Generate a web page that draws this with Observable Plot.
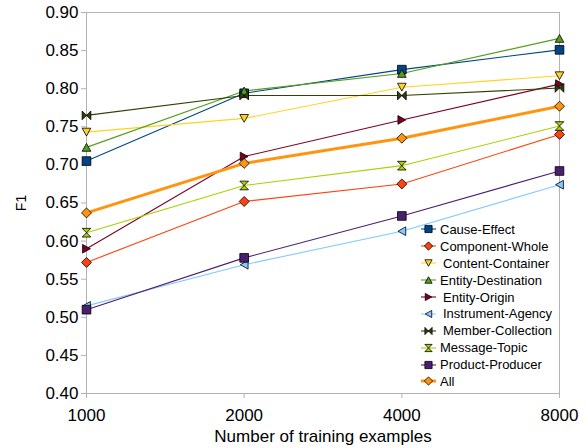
<!DOCTYPE html>
<html><head><meta charset="utf-8">
<script src="https://cdn.jsdelivr.net/npm/d3@7"></script>
<script src="https://cdn.jsdelivr.net/npm/@observablehq/plot@0.6"></script>
<style>
body{margin:0;background:#fff;font-family:"Liberation Sans",Arial,sans-serif;}
#chart{position:relative;width:586px;height:448px;}
#legend{position:absolute;left:420px;top:221px;font-size:13px;color:#000;}
.row{display:flex;align-items:center;height:16.9px;white-space:nowrap;}
.row svg{flex:none;margin-right:3px;}
</style></head><body><div id="chart"></div>
<script>
const trainingSizes = [1000, 2000, 4000, 8000];
const seriesNames = ["Cause-Effect","Component-Whole","Content-Container","Entity-Destination","Entity-Origin","Instrument-Agency","Member-Collection","Message-Topic","Product-Producer","All"];
const causeEffect       = [0.705, 0.794, 0.825, 0.851];
const componentWhole    = [0.572, 0.652, 0.675, 0.740];
const contentContainer  = [0.743, 0.761, 0.802, 0.817];
const entityDestination = [0.723, 0.797, 0.820, 0.866];
const entityOrigin      = [0.590, 0.711, 0.759, 0.806];
const instrumentAgency  = [0.515, 0.569, 0.613, 0.674];
const memberCollection  = [0.765, 0.791, 0.791, 0.801];
const messageTopic      = [0.611, 0.673, 0.699, 0.751];
const productProducer   = [0.510, 0.578, 0.633, 0.692];
const allRelations      = [0.637, 0.702, 0.735, 0.777];
const yTicks = [0.40,0.45,0.50,0.55,0.60,0.65,0.70,0.75,0.80,0.85,0.90];

const seriesValues = [causeEffect, componentWhole, contentContainer, entityDestination, entityOrigin, instrumentAgency, memberCollection, messageTopic, productProducer, allRelations];
const colors = ["#004586","#ff420e","#ffd320","#579d1c","#7e0021","#83caff","#314004","#aecf00","#4b1f6f","#ff950e"];

function sym(pts){
  return {draw(ctx,size){const h=Math.sqrt(size)/2; pts.forEach(([x,y],i)=> i?ctx.lineTo(x*h,y*h):ctx.moveTo(x*h,y*h)); ctx.closePath();}};
}
const square = sym([[-1,-1],[1,-1],[1,1],[-1,1]]);
const diamond = sym([[0,-1.15],[1.15,0],[0,1.15],[-1.15,0]]);
const triDown = sym([[-1,-0.9],[1,-0.9],[0,0.9]]);
const triUp = sym([[-1,0.9],[1,0.9],[0,-0.9]]);
const triRight = sym([[-0.9,-1],[0.9,0],[-0.9,1]]);
const triLeft = sym([[0.9,-1],[-0.9,0],[0.9,1]]);
const bowtie = sym([[-1,-1],[1,1],[1,-1],[-1,1]]);
const hourglass = sym([[-1,-1],[1,-1],[-1,1],[1,1]]);
const symbols = [square, diamond, triDown, triUp, triRight, triLeft, bowtie, hourglass, square, diamond];

const rows = seriesNames.map((name,i)=>({name,i,values:seriesValues[i]}));
const marks = [];
rows.forEach(r=>{
  const d = trainingSizes.map((x,j)=>({x, y:r.values[j]}));
  marks.push(Plot.line(d,{x:"x",y:"y",stroke:colors[r.i],strokeWidth:r.name==="All"?3:1.1}));
});
rows.forEach(r=>{
  const d = trainingSizes.map((x,j)=>({x, y:r.values[j]}));
  marks.push(Plot.dot(d,{x:"x",y:"y",symbol:symbols[r.i],r:4.9,fill:colors[r.i],stroke:"#000",strokeWidth:0.8}));
});

const chart = Plot.plot({
  width:586, height:448,
  marginLeft:86, marginRight:27, marginTop:12, marginBottom:55,
  style:{fontFamily:"Liberation Sans, Arial, sans-serif", background:"#fff", color:"#000"},
  x:{type:"log", domain:[1000,8000]},
  y:{domain:[0.4,0.9]},
  marks:[
    Plot.frame({stroke:"#b3b3b3"}),
    Plot.axisX({ticks:trainingSizes, tickFormat:d3.format("d"), tickSize:5, tickPadding:10, fontSize:17, stroke:"#b3b3b3", fill:"#000",
      label:"Number of training examples", labelAnchor:"center", labelArrow:"none", labelOffset:48}),
    Plot.axisY({ticks:yTicks, tickFormat:d3.format(".2f"), tickSize:5, tickPadding:3, fontSize:17, stroke:"#b3b3b3", fill:"#000",
      label:"F1", labelAnchor:"center", labelArrow:"none", labelOffset:70}),
    ...marks
  ]
});
document.getElementById("chart").appendChild(chart);
chart.querySelectorAll('[aria-label="x-axis label"], [aria-label="y-axis label"]').forEach(g=>g.style.fontSize="");
const yl = chart.querySelector('[aria-label="y-axis label"]'); if (yl) yl.setAttribute("font-size","14");
const xl = chart.querySelector('[aria-label="x-axis label"]'); if (xl) xl.setAttribute("font-size","17");

const indented = new Set(["Content-Container","Entity-Origin","Instrument-Agency","Member-Collection"]);
const legend = d3.select("#chart").append("div").attr("id","legend");
rows.forEach(r=>{
  const row = legend.append("div").attr("class","row");
  const s = row.append("svg").attr("width",17).attr("height",12);
  s.append("line").attr("x1",1).attr("x2",16).attr("y1",6).attr("y2",6).attr("stroke",colors[r.i]).attr("stroke-width",r.name==="All"?3:1.1);
  s.append("path").attr("transform","translate(8.5,6)").attr("d",d3.symbol(symbols[r.i],52)()).attr("fill",colors[r.i]).attr("stroke","#000").attr("stroke-width",0.8);
  row.append("span").style("margin-left",indented.has(r.name)?"3px":"0px").text(r.name);
});
</script></body></html>
